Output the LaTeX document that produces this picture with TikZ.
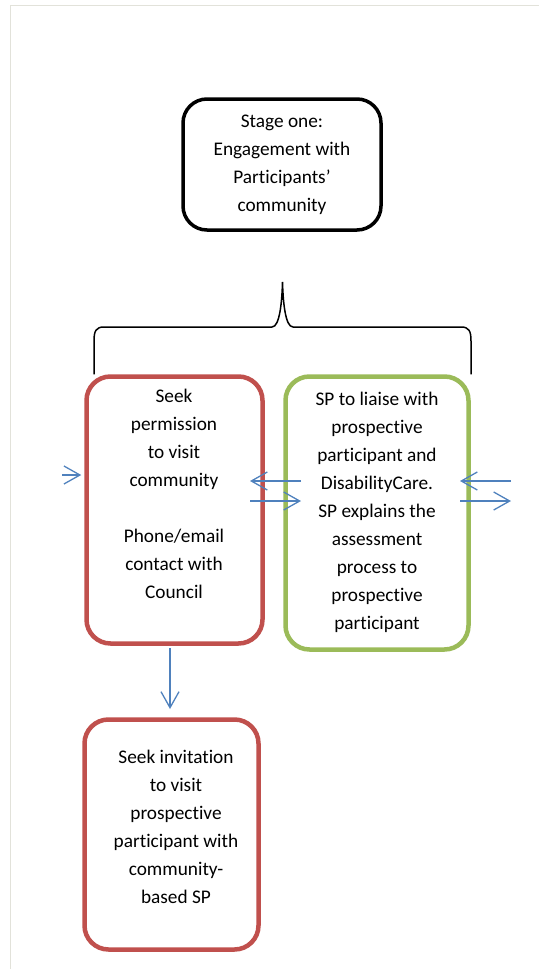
\documentclass[tikz,border=0pt]{standalone}
\usepackage{fontspec}
\setmainfont[Ligatures=NoCommon]{Carlito}
\usetikzlibrary{arrows.meta}

\definecolor{boxred}{HTML}{C0504D}
\definecolor{boxgreen}{HTML}{9BBB59}
\definecolor{flowblue}{HTML}{4F81BD}
\definecolor{pageedge}{HTML}{E2E2DA}

\begin{document}
\begin{tikzpicture}[x=1pt, y=-1pt,
    % Define the styles for the boxes and their texts
    stagebox/.style={draw=black, line width=3.5pt, rounded corners=24pt},
    redbox/.style={draw=boxred, line width=4.5pt, rounded corners=24pt},
    greenbox/.style={draw=boxgreen, line width=4.5pt, rounded corners=24pt},
    boxtext/.style={align=center, inner sep=0pt, font=\fontsize{19.3}{28}\selectfont},
    % Define the style for the blue arrows
    flow/.style={draw=flowblue, line width=1.3pt,
        -{Straight Barb[length=16pt, width=18pt, line width=1.3pt]}}
]

% Page edge and bounding box
\useasboundingbox (0,0) rectangle (539,969);
\draw[pageedge, line width=1pt] (10,969) -- (10,5) -- (539,5);

% Define the boxes
\node[stagebox, minimum width=198pt, minimum height=131pt] (stage) at (282,164.5) {};
\node[redbox, minimum width=176pt, minimum height=267pt] (seek) at (174.5,510) {};
\node[greenbox, minimum width=183pt, minimum height=273pt] (liaise) at (377,513) {};
\node[redbox, minimum width=174pt, minimum height=230pt] (invite) at (171.5,834.5) {};

% Add the texts
\node[boxtext] (stagetxt) at (282,165) {Stage one:\\Engagement with\\Participants’\\community};
\node[boxtext] (seektxt) at (174,494) {Seek\\permission\\to visit\\community\\[28pt]Phone/email\\contact with\\Council};
\node[boxtext] (liaisetxt) at (377,512) {SP to liaise with\\prospective\\participant and\\DisabilityCare.\\SP explains the\\assessment\\process to\\prospective\\participant};
\node[boxtext] (invitetxt) at (176,827) {Seek invitation\\to visit\\prospective\\participant with\\community-\\based SP};

% Draw the brace
\draw[line width=1.5pt] (seek.north -| 94,0) -- (94,341)
    .. controls (94,331) and (96,327) .. (104,327) -- (272,327)
    .. controls (280,327) and (282,300) .. (282.5,282)
    .. controls (283,300) and (285,327) .. (293,327) -- (461,327)
    .. controls (469,327) and (471,331) .. (471,341) -- (liaise.north -| 471,0);

% Define the free ends of the arrows
\coordinate (inL) at (62,475);
\coordinate (midR) at (301,481);
\coordinate (midL) at (250,501);
\coordinate (outR) at (511,481);
\coordinate (outL) at (460,501);
\coordinate (dn) at (170,709);

% Draw the arrows
\draw[flow, shorten >=3pt] (inL) -- (inL -| seek.west);
\draw[flow] (midR) -- (midR -| midL);
\draw[flow] (midL) -- (midL -| midR);
\draw[flow] (outR) -- (outR -| outL);
\draw[flow] (outL) -- (outL -| outR);
\draw[flow] ([yshift=-2.5pt]seek.south -| dn) -- (dn);

\end{tikzpicture}
\end{document}
